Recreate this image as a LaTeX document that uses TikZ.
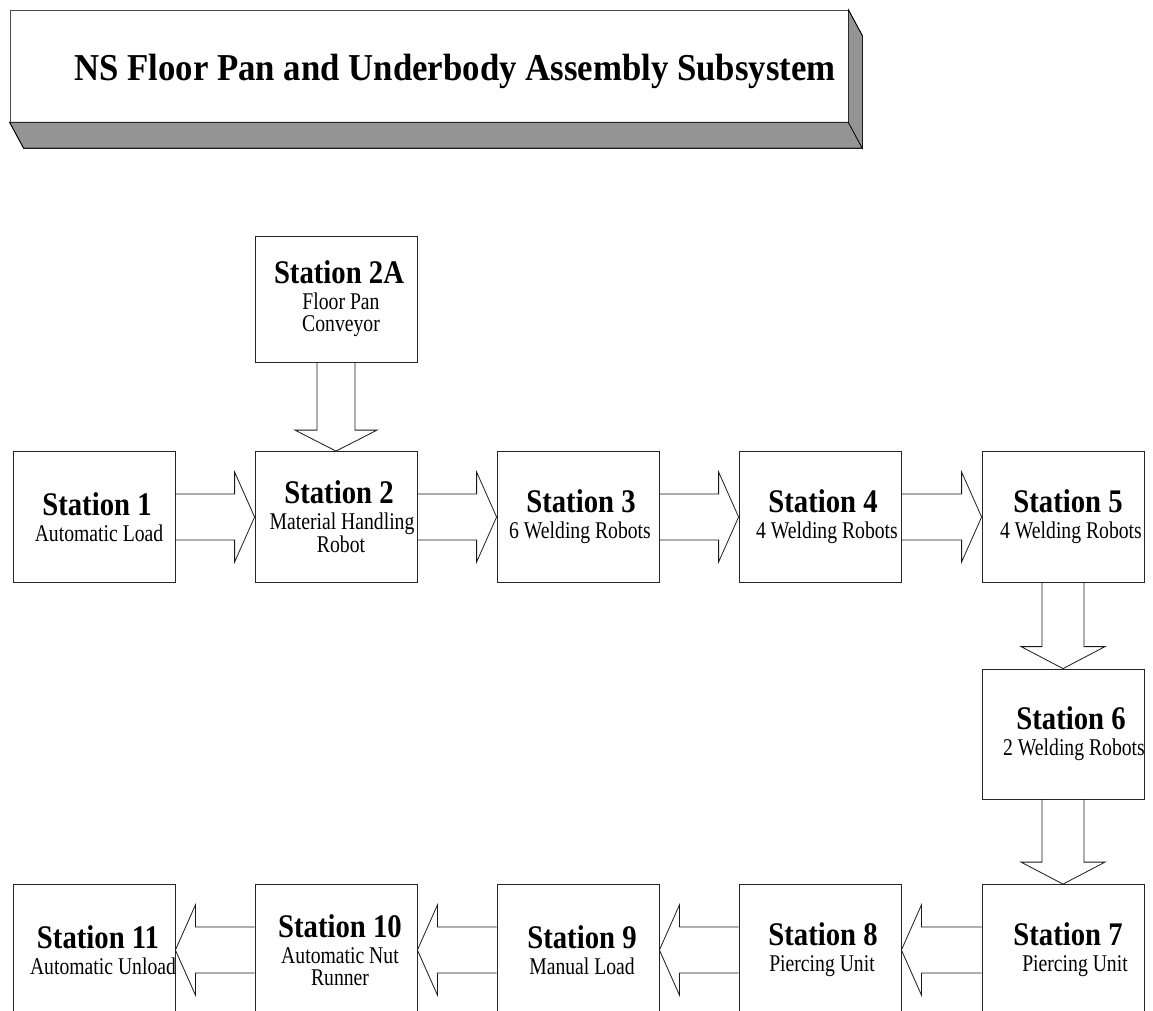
\documentclass[tikz,border=0pt]{standalone}
\usepackage{fontspec}
\setmainfont{Liberation Serif}
\newfontfamily\hdfont[FakeStretch=0.87]{Liberation Serif}
\newfontfamily\subfont[FakeStretch=0.82]{Liberation Serif}
\newfontfamily\ttlfont[FakeStretch=0.915]{Liberation Serif}
\usetikzlibrary{calc}

% heading and description lines inside a station box;
% the optional argument moves the line's centre to the right
\newcommand\sthead[2][3pt]{\makebox[0pt]{\hspace*{#1}\hspace*{#1}{\hdfont\bfseries\fontsize{33}{26}\selectfont #2}}}
\newcommand\stdesc[2][5pt]{\makebox[0pt]{\hspace*{#1}\hspace*{#1}{\subfont\fontsize{24}{26}\selectfont #2}}}

% hollow block arrows between two station nodes
\newcommand\blockright[2]{%
  \draw[blockarrow] ($(#1.east)+(0,-23)$) -- ($(#2.west)+(-20,-23)$) -- ($(#2.west)+(-20,-45)$)
    -- (#2.west) -- ($(#2.west)+(-20,45)$) -- ($(#2.west)+(-20,23)$) -- ($(#1.east)+(0,23)$);}
\newcommand\blockleft[2]{%
  \draw[blockarrow] ($(#1.west)+(0,-23)$) -- ($(#2.east)+(20,-23)$) -- ($(#2.east)+(20,-45)$)
    -- (#2.east) -- ($(#2.east)+(20,45)$) -- ($(#2.east)+(20,23)$) -- ($(#1.west)+(0,23)$);}
% #3 half shaft width, #4 half head width, #5 head length
\newcommand\blockdown[5]{%
  \draw[blockarrow] ($(#1.south)+(-#3,0)$) -- ($(#2.north)+(-#3,-#5)$) -- ($(#2.north)+(-#4,-#5)$)
    -- (#2.north) -- ($(#2.north)+(#4,-#5)$) -- ($(#2.north)+(#3,-#5)$) -- ($(#1.south)+(#3,0)$);}

\tikzset{
  station/.style={draw=black!85, line width=0.8pt, fill=white, inner sep=0pt,
    minimum width=162pt, minimum height=131pt, align=center,
    font=\fontsize{24}{26}\selectfont},
  blockarrow/.style={draw=black!90, line width=0.8pt, line join=miter},
  titleface/.style={draw=black!70, line width=0.7pt, fill=white,
    minimum width=838pt, minimum height=112pt, inner sep=0pt},
  titleside/.style={draw=black, line width=0.7pt, fill=black!42},
  titletext/.style={font=\ttlfont\bfseries\fontsize{38}{38}\selectfont, inner sep=0pt}
}

\begin{document}
\begin{tikzpicture}[x=1pt, y=-1pt]
\useasboundingbox (0,0) rectangle (1153,1011);

% raised title plate
\node[titleface] (ttl) at (429,66) {};
\fill[titleside] (ttl.south west) -- (ttl.south east) -- ($(ttl.south east)+(14,26)$)
  -- ($(ttl.south west)+(14,26)$) -- cycle;
\fill[titleside] (ttl.north east) -- ($(ttl.north east)+(14,26)$)
  -- ($(ttl.south east)+(14,26)$) -- (ttl.south east) -- cycle;
\draw[line width=0.7pt] (ttl.south west) -- ($(ttl.south west)+(14,26)$)
  -- ($(ttl.south east)+(14,26)$) -- ($(ttl.north east)+(14,26)$) -- (ttl.north east);
\node[titletext, anchor=base] (ttltext) at (455,81) {NS Floor Pan and Underbody Assembly Subsystem};

% feeder station
\node[station, minimum height=126pt] (s2a) at (336,299)
  {\sthead{Station 2A}\\\stdesc{Floor Pan}\\[-4pt]\stdesc{Conveyor}};

% upper line
\node[station] (s1) at (94,517) {\sthead{Station 1}\\\stdesc{Automatic Load}};
\node[station] (s2) at (336,517)
  {\sthead{Station 2}\\\stdesc[6pt]{Material Handling}\\[-3pt]\stdesc{Robot}};
\node[station] (s3) at (578,517) {\sthead{Station 3}\\\stdesc[2pt]{6 Welding Robots}};
\node[station] (s4) at (820,517) {\sthead{Station 4}\\\stdesc[7pt]{4 Welding Robots}};
\node[station] (s5) at (1063,517) {\sthead[5pt]{Station 5}\\\stdesc[8pt]{4 Welding Robots}};

% return column
\node[station, minimum height=130pt] (s6) at (1063,734)
  {\sthead[8pt]{Station 6}\\\stdesc[11pt]{2 Welding Robots}};

% lower line
\node[station] (s7) at (1063,950) {\sthead[5pt]{Station 7}\\\stdesc[12pt]{Piercing Unit}};
\node[station] (s8) at (820,950) {\sthead{Station 8}\\\stdesc[2pt]{Piercing Unit}};
\node[station] (s9) at (578,950) {\sthead[4pt]{Station 9}\\\stdesc[4pt]{Manual Load}};
\node[station] (s10) at (336,950)
  {\sthead[4pt]{Station 10}\\\stdesc[4pt]{Automatic Nut}\\[-4pt]\stdesc[4pt]{Runner}};
\node[station] (s11) at (94,950) {\sthead[4pt]{Station 11}\\\stdesc[9pt]{Automatic Unload}};

% material flow
\blockdown{s2a}{s2}{19}{41}{21}
\blockright{s1}{s2}
\blockright{s2}{s3}
\blockright{s3}{s4}
\blockright{s4}{s5}
\blockdown{s5}{s6}{21}{42}{22}
\blockdown{s6}{s7}{21}{42}{22}
\blockleft{s7}{s8}
\blockleft{s8}{s9}
\blockleft{s9}{s10}
\blockleft{s10}{s11}
\end{tikzpicture}
\end{document}
